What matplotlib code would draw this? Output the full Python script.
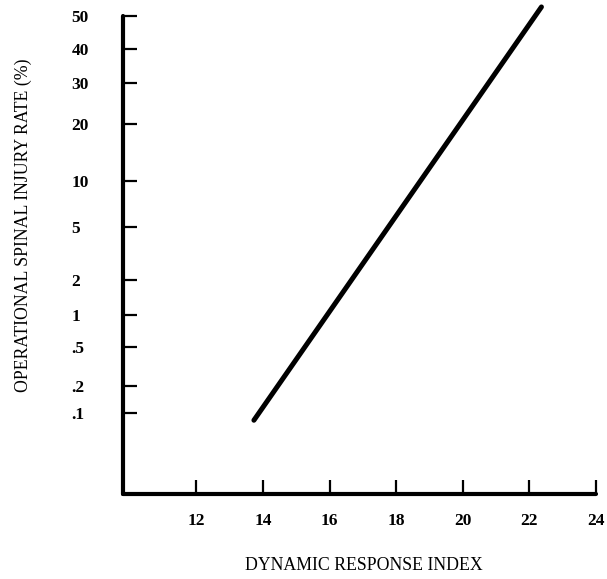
import matplotlib
matplotlib.use('Agg')
import matplotlib.pyplot as plt
import numpy as np
from statistics import NormalDist

# line
dri = [13.73, 22.36]
injury_rate = [0.083, 52.8]

x_ticks = [12, 14, 16, 18, 20, 22, 24]
y_ticks = [0.1, 0.2, 0.5, 1, 2, 5, 10, 20, 30, 40, 50]
y_labels = ['.1', '.2', '.5', '1', '2', '5', '10', '20', '30', '40', '50']

nd = NormalDist()
_ppf = np.vectorize(nd.inv_cdf, otypes=[float])
_cdf = np.vectorize(nd.cdf, otypes=[float])

def probit(p):
    p = np.clip(np.asarray(p, dtype=float) / 100.0, 1e-12, 1 - 1e-12)
    return _ppf(p)

def inv_probit(z):
    return _cdf(np.asarray(z, dtype=float)) * 100.0

plt.rcParams['font.family'] = ['Liberation Serif', 'DejaVu Serif']

fig = plt.figure(figsize=(6.07, 5.79), dpi=100)
ax = fig.add_axes([0.2026, 0.1468, 0.7794, 0.8256])
ax.set_yscale('function', functions=(probit, inv_probit))

ax.plot(dri, injury_rate, color='black', linewidth=3.6, solid_capstyle='round', clip_on=False)

ax.set_xlim(9.8, 24)
ax.set_ylim(0.01, 50)

ax.set_xticks(x_ticks)
ax.set_xticklabels([str(t) for t in x_ticks], fontsize=12.5, fontweight='bold')
ax.set_yticks(y_ticks)
ax.set_yticklabels(y_labels, fontsize=12.5, fontweight='bold')
ax.yaxis.set_minor_locator(matplotlib.ticker.NullLocator())
ax.xaxis.set_minor_locator(matplotlib.ticker.NullLocator())

ax.tick_params(axis='both', direction='in', length=10, width=1.6, color='black')
ax.tick_params(axis='x', pad=14)
ax.tick_params(axis='y', pad=37)
for lab in ax.get_yticklabels():
    lab.set_horizontalalignment('left')

for s in ['top', 'right']:
    ax.spines[s].set_visible(False)
for s in ['left', 'bottom']:
    ax.spines[s].set_linewidth(3)
    ax.spines[s].set_capstyle('round')

fig.text(364 / 607, 1 - 566 / 579, 'DYNAMIC RESPONSE INDEX', ha='center', va='center', fontsize=12.8)
fig.text(23 / 607, 1 - 225 / 579, 'OPERATIONAL SPINAL INJURY RATE (%)', ha='center', va='center',
         rotation=90, fontsize=12.8)

fig.savefig('out.png', dpi=100)
